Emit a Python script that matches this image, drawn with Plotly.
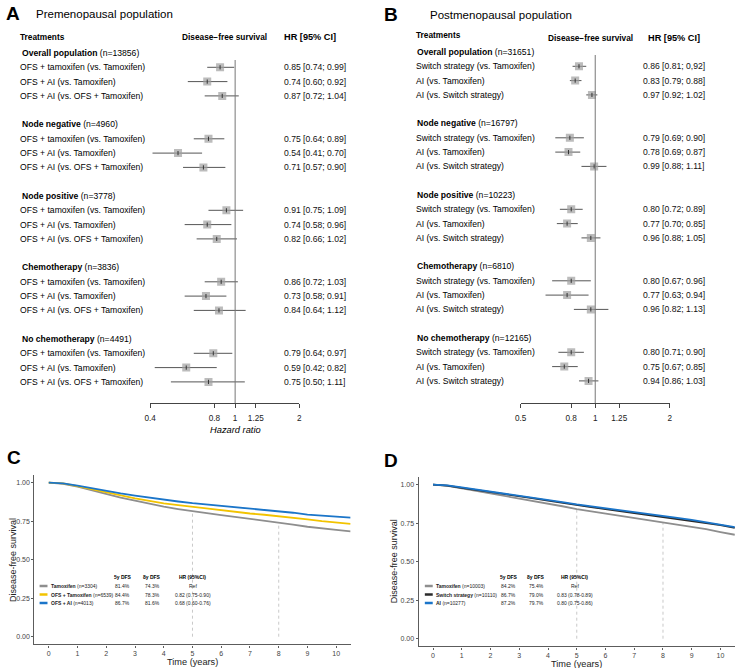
import math
import plotly.graph_objects as go

W, H = 738, 668
FONT = "Liberation Sans, Arial, Helvetica, sans-serif"

# ---------------- Data: panel A (premenopausal forest) ----------------
subgroups = ["Overall population", "Node negative", "Node positive", "Chemotherapy", "No chemotherapy"]
n_pre = [13856, 4960, 3778, 3836, 4491]
comp_pre = ["OFS + tamoxifen (vs. Tamoxifen)", "OFS + AI (vs. Tamoxifen)", "OFS + AI (vs. OFS + Tamoxifen)"]
hr_pre = [0.85, 0.74, 0.87, 0.75, 0.54, 0.71, 0.91, 0.74, 0.82, 0.86, 0.73, 0.84, 0.79, 0.59, 0.75]
lo_pre = [0.74, 0.60, 0.72, 0.64, 0.41, 0.57, 0.75, 0.58, 0.66, 0.72, 0.58, 0.64, 0.64, 0.42, 0.50]
hi_pre = [0.99, 0.92, 1.04, 0.89, 0.70, 0.90, 1.09, 0.96, 1.02, 1.03, 0.91, 1.12, 0.97, 0.82, 1.11]
ticks_pre = [0.4, 0.8, 1, 1.25, 2]

# ---------------- Data: panel B (postmenopausal forest) ----------------
n_post = [31651, 16797, 10223, 6810, 12165]
comp_post = ["Switch strategy (vs. Tamoxifen)", "AI (vs. Tamoxifen)", "AI (vs. Switch strategy)"]
hr_post = [0.86, 0.83, 0.97, 0.79, 0.78, 0.99, 0.80, 0.77, 0.96, 0.80, 0.77, 0.96, 0.80, 0.75, 0.94]
lo_post = [0.81, 0.79, 0.92, 0.69, 0.69, 0.88, 0.72, 0.70, 0.88, 0.67, 0.63, 0.82, 0.71, 0.67, 0.86]
hi_post = [0.92, 0.88, 1.02, 0.90, 0.87, 1.11, 0.89, 0.85, 1.05, 0.96, 0.94, 1.13, 0.90, 0.85, 1.03]
ticks_post = [0.5, 0.8, 1, 1.25, 2]

# ---------------- Data: panels C / D (Kaplan-Meier) ----------------
years = [0, 0.5, 1, 1.5, 2, 2.5, 3, 3.5, 4, 4.5, 5, 5.5, 6, 6.5, 7, 7.5, 8, 8.5, 9, 9.5, 10, 10.5]
km_pre_tam = [1.0, 0.993, 0.974, 0.950, 0.925, 0.903, 0.883, 0.862, 0.844, 0.829, 0.814, 0.802,
              0.790, 0.778, 0.766, 0.755, 0.743, 0.728, 0.714, 0.702, 0.693, 0.684]
km_pre_ofs_tam = [1.0, 0.995, 0.978, 0.957, 0.935, 0.916, 0.898, 0.882, 0.866, 0.855, 0.844, 0.831,
                  0.818, 0.809, 0.800, 0.792, 0.783, 0.772, 0.762, 0.750, 0.740, 0.732]
km_pre_ofs_ai = [1.0, 0.996, 0.981, 0.963, 0.946, 0.930, 0.916, 0.902, 0.888, 0.878, 0.867, 0.858,
                 0.850, 0.841, 0.832, 0.824, 0.816, 0.805, 0.793, 0.786, 0.778, 0.773]
km_post_tam = [1.0, 0.992, 0.976, 0.960, 0.944, 0.927, 0.911, 0.895, 0.878, 0.860, 0.842, 0.828,
               0.814, 0.799, 0.784, 0.769, 0.754, 0.740, 0.726, 0.711, 0.692, 0.675]
km_post_switch = [1.0, 0.994, 0.980, 0.967, 0.953, 0.939, 0.925, 0.911, 0.896, 0.881, 0.867, 0.855,
                  0.842, 0.829, 0.816, 0.803, 0.790, 0.778, 0.765, 0.752, 0.738, 0.720]
km_post_ai = [1.0, 0.995, 0.982, 0.969, 0.956, 0.942, 0.929, 0.915, 0.901, 0.887, 0.872, 0.860,
              0.847, 0.835, 0.822, 0.810, 0.797, 0.784, 0.771, 0.757, 0.742, 0.725]

pre_arms = ["Tamoxifen", "OFS + Tamoxifen", "OFS + AI"]
pre_n = [3304, 6539, 4013]
pre_dfs5 = ["81.4%", "84.4%", "86.7%"]
pre_dfs8 = ["74.3%", "78.3%", "81.6%"]
pre_hr = ["Ref", "0.82 (0.75-0.90)", "0.68 (0.60-0.76)"]
post_arms = ["Tamoxifen", "Switch strategy", "AI"]
post_n = [10003, 10110, 10277]
post_dfs5 = ["84.2%", "86.7%", "87.2%"]
post_dfs8 = ["75.4%", "79.0%", "79.7%"]
post_hr = ["Ref", "0.83 (0.78-0.89)", "0.80 (0.75-0.86)"]
km_ticks_y = [0, 0.25, 0.5, 0.75, 1.0]
km_ticks_x = list(range(0, 11))

# ---------------- helpers ----------------
def P(xpx):
    return xpx / W


def Q(ypx):
    return 1 - ypx / H


fig = go.Figure()
annotations = []
shapes = []


def ann(x, y, text, size, xanchor="left", yanchor="middle", color="#000", xref="paper", yref="paper", **kw):
    annotations.append(dict(x=x, y=y, xref=xref, yref=yref, text=text, showarrow=False,
                            xanchor=xanchor, yanchor=yanchor,
                            font=dict(family=FONT, size=size, color=color), **kw))


def hr_label(h, l, u):
    return f"{h:.2f} [{l:.2f}; {u:.2f}]"


def add_forest(axn, ns, comps, hr, lo, hi, labels, row0, step, x_head, x_item, x_hr, vtop):
    xa = "x" if axn == 1 else f"x{axn}"
    ya = "y" if axn == 1 else f"y{axn}"
    rows = []
    for g in range(len(subgroups)):
        for k in range(len(comps)):
            rows.append(5 * g + 1 + k)
    xs, ys = [], []
    for r, l, u in zip(rows, lo, hi):
        xs += [l, u, None]
        ys += [r, r, None]
    fig.add_trace(go.Scatter(x=xs, y=ys, mode="lines", line=dict(color="#555555", width=1),
                             xaxis=xa, yaxis=ya, hoverinfo="skip", showlegend=False))
    fig.add_trace(go.Scatter(x=hr, y=rows, mode="markers",
                             marker=dict(symbol="square", size=8, color="rgba(160,160,160,0.7)",
                                         line=dict(width=0)),
                             xaxis=xa, yaxis=ya, showlegend=False))
    fig.add_trace(go.Scatter(x=hr, y=rows, mode="markers",
                             marker=dict(symbol="line-ns", size=3, line=dict(width=1, color="#333")),
                             xaxis=xa, yaxis=ya, showlegend=False))
    rbot = (403 - row0) / step
    rtop_line = (vtop - row0) / step
    shapes.append(dict(type="line", xref=xa, yref=ya, x0=1, x1=1, y0=rtop_line, y1=rbot,
                       line=dict(color="#777777", width=1)))
    for g, name in enumerate(subgroups):
        ann(P(x_head), 5 * g, f"<b>{name}</b> (n={ns[g]})", 8.6, yref=ya)
        for k, c in enumerate(comps):
            ann(P(x_item), 5 * g + 1 + k, c, 8.6, yref=ya)
    for r, t in zip(rows, labels):
        ann(P(x_hr), r, t, 8.6, yref=ya, color="#111")
    return rbot, (45 - row0) / step


labels_pre = [hr_label(h, l, u) for h, l, u in zip(hr_pre, lo_pre, hi_pre)]
labels_post = [hr_label(h, l, u) for h, l, u in zip(hr_post, lo_post, hi_post)]
labels_post[0] = "0.86 [0.81; 0,92]"

rA = add_forest(1, n_pre, comp_pre, hr_pre, lo_pre, hi_pre, labels_pre, 53, 14.3, 14, 12, 279, 60)
rB = add_forest(2, n_post, comp_post, hr_post, lo_post, hi_post, labels_post, 52, 14.3, 414, 413, 643, 55)


# ---------------- KM curves ----------------
def km(axn, y, color, width=1.8):
    fig.add_trace(go.Scatter(x=years, y=y, mode="lines", line=dict(color=color, width=width),
                             xaxis=f"x{axn}", yaxis=f"y{axn}", showlegend=False, hoverinfo="skip"))


GRAY, YEL, BLUE, DARK = "#8e8e8e", "#f2c300", "#1b75c9", "#2a2a2a"
km(3, km_pre_tam, GRAY)
km(3, km_pre_ofs_tam, YEL)
km(3, km_pre_ofs_ai, BLUE)
km(4, km_post_tam, GRAY)
km(4, km_post_switch, DARK)
km(4, km_post_ai, BLUE)

for axn, base in ((3, km_pre_tam), (4, km_post_tam)):
    for yr in (5, 8):
        yv = base[years.index(yr)]
        shapes.append(dict(type="line", xref=f"x{axn}", yref=f"y{axn}", x0=yr, x1=yr, y0=0, y1=yv,
                           line=dict(color="#bbbbbb", width=0.8, dash="dot"), layer="below"))


def km_table(arms, ns, d5, d8, hrs, colors, sw0, sw1, xt, c5, c8, chr_):
    hy = 577
    ann(P(c5), Q(hy), "<b>5y DFS</b>", 5, xanchor="center")
    ann(P(c8), Q(hy), "<b>8y DFS</b>", 5, xanchor="center")
    ann(P(chr_), Q(hy), "<b>HR (95%CI)</b>", 5, xanchor="center")
    for i, ry in enumerate([586, 594.5, 603]):
        shapes.append(dict(type="line", xref="paper", yref="paper", x0=P(sw0), x1=P(sw1),
                           y0=Q(ry), y1=Q(ry), line=dict(color=colors[i], width=2.5)))
        ann(P(xt), Q(ry), f"<b>{arms[i]}</b> (n={ns[i]})", 5, color="#222")
        ann(P(c5), Q(ry), d5[i], 5, xanchor="center", color="#222")
        ann(P(c8), Q(ry), d8[i], 5, xanchor="center", color="#222")
        ann(P(chr_), Q(ry), hrs[i], 5, xanchor="center", color="#222")


km_table(pre_arms, pre_n, pre_dfs5, pre_dfs8, pre_hr, [GRAY, YEL, BLUE], 34, 42, 43.5, 118, 148, 189)
km_table(post_arms, post_n, post_dfs5, post_dfs8, post_hr, [GRAY, DARK, BLUE], 424, 432, 433.5, 509, 537, 576)

# ---------------- static texts ----------------
ann(P(7.5), Q(13), "<b>A</b>", 19, xanchor="center")
ann(P(389.5), Q(14), "<b>B</b>", 19, xanchor="center")
ann(P(8), Q(457), "<b>C</b>", 19, xanchor="center")
ann(P(390), Q(460), "<b>D</b>", 19, xanchor="center")
ann(P(28), Q(14.5), "Premenopausal population", 11.5)
ann(P(427), Q(15.5), "Postmenopausal population", 11.5)

ann(P(12), Q(37), "<b>Treatments</b>", 8.3)
ann(P(221), Q(37), "<b>Disease−free survival</b>", 8.3, xanchor="center")
ann(P(279.5), Q(37), "<b>HR [95% CI]</b>", 9.2)
ann(P(413), Q(35), "<b>Treatments</b>", 8.3)
ann(P(592), Q(38), "<b>Disease−free survival</b>", 8.3, xanchor="center")
ann(P(647.5), Q(38), "<b>HR [95% CI]</b>", 9.2)
ann(P(232), Q(430), "<i>Hazard ratio</i>", 9.3, xanchor="center")

ann(P(188.5), Q(661.5), "Time (years)", 9.2, xanchor="center", color="#222")
ann(P(578), Q(663.5), "Time (years)", 9.2, xanchor="center", color="#222")
ann(P(7), Q(560), "Disease-free survival", 9, xanchor="center", textangle=-90, color="#222")
ann(P(393), Q(561), "Disease-free survival", 9, xanchor="center", textangle=-90, color="#222")


# ---------------- axes ----------------
def forest_x(dom, ticks, ya):
    return dict(domain=[P(dom[0]), P(dom[1])], type="log",
                range=[math.log10(ticks[0]), math.log10(ticks[-1])],
                tickvals=ticks, ticktext=[f"{t:g}" for t in ticks],
                showline=True, linecolor="#444", linewidth=1, ticks="outside", ticklen=4,
                tickcolor="#444", tickwidth=1, showgrid=False, zeroline=False, anchor=ya,
                tickfont=dict(family=FONT, size=8.2, color="#222"), ticklabelstandoff=3,
                fixedrange=True)


def forest_y(r):
    return dict(domain=[Q(403), Q(45)], range=[r[0], r[1]], visible=False, showgrid=False,
                zeroline=False, fixedrange=True)


def km_x(dom, ya):
    return dict(domain=[P(dom[0]), P(dom[1])], range=[-0.5, 10.5], tickvals=km_ticks_x,
                showline=True, linecolor="#5c5c5c", linewidth=1.2, ticks="outside", ticklen=2,
                tickcolor="#5c5c5c", showgrid=False, zeroline=False, anchor=ya,
                tickfont=dict(family=FONT, size=7, color="#444"), fixedrange=True)


def km_y(dom, xa):
    return dict(domain=[Q(dom[0]), Q(dom[1])], range=[-0.05, 1.05], tickvals=km_ticks_y,
                ticktext=[f"{t:.2f}" for t in km_ticks_y],
                showline=True, linecolor="#5c5c5c", linewidth=1.2, ticks="outside", ticklen=2,
                tickcolor="#5c5c5c", showgrid=False, zeroline=False, anchor=xa,
                tickfont=dict(family=FONT, size=7, color="#444"), fixedrange=True)


fig.update_layout(
    width=W, height=H, autosize=False,
    margin=dict(l=0, r=0, t=0, b=0),
    paper_bgcolor="white", plot_bgcolor="rgba(0,0,0,0)",
    showlegend=False,
    font=dict(family=FONT),
    xaxis=forest_x((146, 297), ticks_pre, "y"),
    yaxis=forest_y(rA),
    xaxis2=forest_x((521, 672), ticks_post, "y2"),
    yaxis2=forest_y(rB),
    xaxis3=km_x((28.75, 348.85), "y3"),
    yaxis3=km_y((644.4, 475), "x3"),
    xaxis4=km_x((417.75, 737.85), "y4"),
    yaxis4=km_y((646.4, 477), "x4"),
    annotations=annotations,
    shapes=shapes,
)

fig.write_html(
    "out.html",
    config={"displayModeBar": False, "responsive": False},
    post_script="document.body.style.margin='0';document.body.style.overflow='hidden';",
)
